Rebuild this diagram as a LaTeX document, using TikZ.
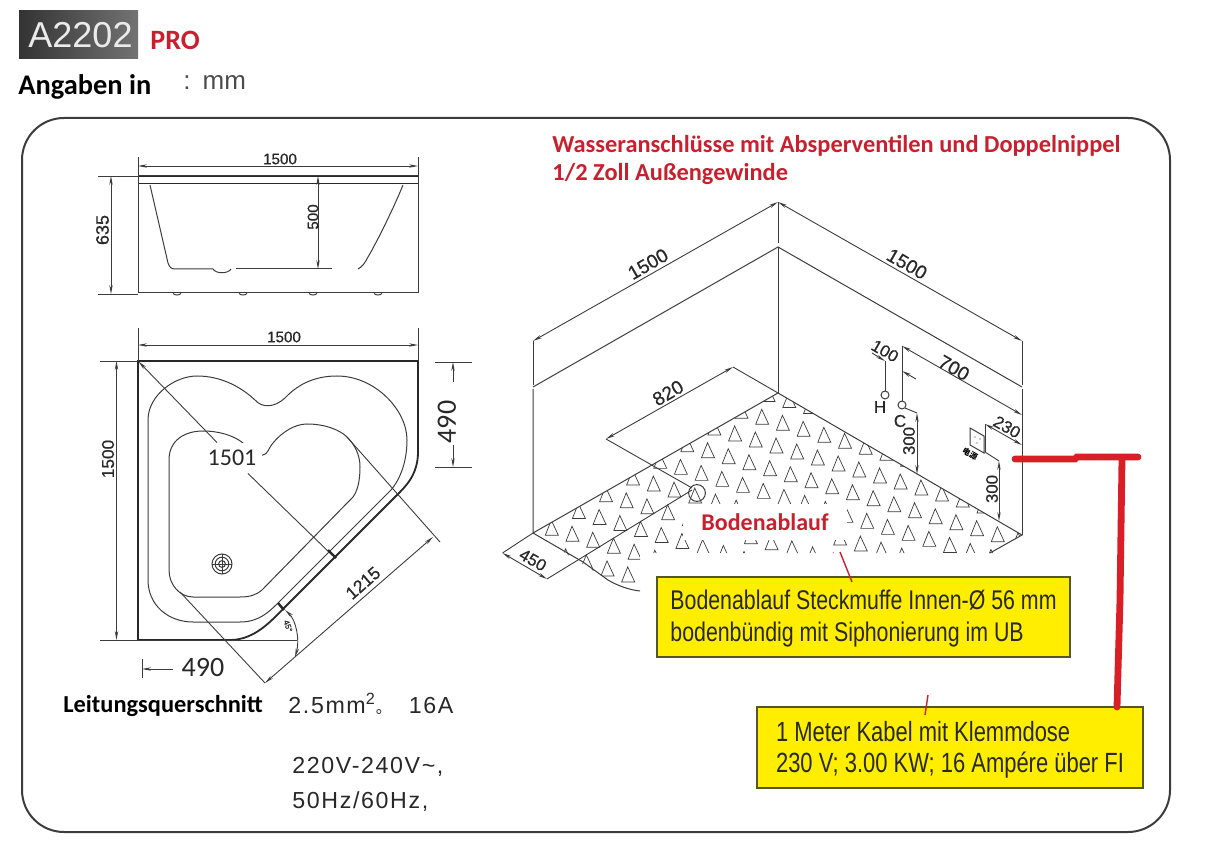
\documentclass[tikz,border=0pt]{standalone}
\usepackage{fontspec}
\usepackage{xcolor}
\setmainfont{Carlito}
\newfontfamily\dimfont[FakeBold=0.6]{Liberation Sans}
\newfontfamily\boxfont[FakeStretch=0.79]{Liberation Sans}
\newfontfamily\specfont[LetterSpace=7]{Liberation Sans}
\newfontfamily\plainfont{Liberation Sans}
\newfontfamily\cjk{Noto Sans CJK SC}
\usetikzlibrary{arrows.meta,positioning,calc}
\definecolor{inkgray}{RGB}{40,40,40}
\definecolor{linegray}{RGB}{60,60,60}
\definecolor{notered}{RGB}{200,32,46}
\definecolor{cablered}{RGB}{218,30,38}
\definecolor{boxyellow}{RGB}{255,238,0}
\definecolor{boxedge}{RGB}{85,85,40}
\tikzset{
    % Outer frame
    framebox/.style={draw=linegray, line width=1pt, rounded corners=21pt},
    % Outlines of the tub
    tubline/.style={draw=linegray, line width=0.5pt},
    tubedge/.style={draw=inkgray, line width=0.9pt},
    % Dimension lines
    dimline/.style={draw=linegray, line width=0.45pt, >={Stealth[length=4.5pt,width=1.7pt]}},
    extline/.style={draw=linegray, line width=0.45pt},
    tickline/.style={draw=inkgray, line width=1.2pt},
    % Dimension texts
    dimlabel/.style={font=\dimfont\fontsize{7.6}{9}\selectfont, text=inkgray, inner sep=0pt},
    isolabel/.style={font=\dimfont\fontsize{9.6}{11}\selectfont, text=inkgray, inner sep=0pt},
    smalliso/.style={font=\dimfont\fontsize{8.4}{10}\selectfont, text=inkgray, inner sep=0pt},
    biglabel/.style={font=\fontsize{14}{16}\selectfont, text=inkgray, inner sep=0pt},
    % Floor triangles
    floortri/.style={draw=linegray, line width=0.35pt},
    % Notes
    rednote/.style={font=\bfseries\fontsize{12.2}{14}\selectfont, text=notered, inner sep=0pt, anchor=west},
    yellowbox/.style={rectangle, draw=boxedge, line width=0.7pt, fill=boxyellow,
        text=inkgray, align=left, inner sep=0pt},
    specline/.style={font=\specfont\fontsize{11.6}{13}\selectfont, text=inkgray, inner sep=0pt, anchor=west},
    cable/.style={draw=cablered, line width=3.4pt, line cap=round},
    leader/.style={draw=notered, line width=0.7pt}
}

\begin{document}
\begin{tikzpicture}[x=0.5pt,y=-0.5pt]
\useasboundingbox (0,0) rectangle (1220,865);

% Header
\node[minimum width=59.5pt, minimum height=24pt, inner sep=0pt, left color=black!80, right color=black!55,
    text=black!8, font=\plainfont\fontsize{18}{20}\selectfont] (logo) at (78.5,35) {\hspace{2pt}A2202};
\node[rednote, font=\bfseries\fontsize{14}{16}\selectfont] (pro) at (150,40) {PRO};
\node[font=\bfseries\fontsize{14.2}{16}\selectfont, anchor=west, inner sep=0pt] (unit) at (18,87) {Angaben in};
\node[specline, font=\plainfont\fontsize{13}{15}\selectfont, text=black!70] (mm) at (183,83) {:\hspace{6pt}mm};

\draw[framebox] (22,118) rectangle (1170,832);

% Side view
\draw[tubedge] (138,176) -- (418,176);
\draw[tubedge] (138,183.5) -- (418,183.5);
\draw[tubline] (138,176) rectangle (418,293);
\draw[tubline] (150,185) -- (168,263) .. controls (169.5,267) and (171,269) .. (175,269) -- (213,269)
    .. controls (216,274) and (228,274) .. (231,269);
\draw[tubline] (236,269) -- (332,269);
\draw[tubline] (403,185) .. controls (395,205) and (378,240) .. (368,257) .. controls (365,263) and (362,267) .. (358,269);
\foreach \footx in {177,243,313,378}
    \draw[tubline] (\footx-4,293.5) .. controls (\footx-2,295.5) and (\footx+2,295.5) .. (\footx+4,293.5);
\draw[extline] (138,157) -- (138,176);
\draw[extline] (418,157) -- (418,176);
\draw[dimline,<->] (138,166) -- (418,166);
\node[dimlabel] (sidewidth) at (280,159) {1500};
\draw[extline] (98,176) -- (138,176);
\draw[extline] (98,294) -- (138,294);
\draw[dimline,<->] (111,176) -- (111,294);
\node[dimlabel, font=\dimfont\fontsize{9}{11}\selectfont, rotate=90] (sideheight) at (102.5,230) {635};
\draw[dimline,<->] (318,176) -- (318,269);
\node[dimlabel, rotate=90] (sidedepth) at (313,217) {500};

% Plan view
\draw[tubedge] (138,361) -- (418,361) -- (418,452) .. controls (418,475) and (405,487) .. (397,495)
    -- (284,608) .. controls (272,620) and (255,640) .. (230,640) -- (138,640) -- cycle;
\draw[tubline] (148,420) .. controls (148,395) and (175,376) .. (197,376)
    .. controls (220,376) and (240,386) .. (255,400)
    .. controls (262,408) and (274,408) .. (285,398)
    .. controls (300,382) and (318,376) .. (337,376)
    .. controls (375,376) and (407,410) .. (407,440)
    .. controls (407,465) and (398,482) .. (391,490)
    -- (278,603) .. controls (268,613) and (258,622) .. (240,622)
    -- (193,622) .. controls (168,622) and (148,605) .. (148,580) -- cycle;
\draw[tubline] (169,570) -- (169,460) .. controls (169,440) and (185,431) .. (203,431)
    .. controls (218,431) and (233,435) .. (243,443)
    .. controls (250,450) and (255,456) .. (263,455)
    .. controls (268,454) and (268,449) .. (273,443)
    .. controls (282,432) and (295,424) .. (307,424)
    .. controls (325,424) and (340,430) .. (347,437)
    .. controls (355,445) and (360,455) .. (360,467)
    .. controls (360,480) and (358,490) .. (353,497)
    -- (262,590) .. controls (256,595) and (250,597) .. (240,597)
    -- (193,597) .. controls (180,597) and (169,585) .. (169,570);
% Drain of the tub
\draw[tubline] (222,564) circle (5pt) circle (3.4pt) circle (1.7pt);
\draw[tubline] (212,564) -- (232,564) (222,554) -- (222,574);

% Plan dimensions
\draw[extline] (138,328) -- (138,361);
\draw[extline] (418,328) -- (418,361);
\draw[dimline,<->] (138,345) -- (418,345);
\node[dimlabel] (planwidth) at (284,337) {1500};
\draw[extline] (100,361) -- (138,361);
\draw[extline] (100,640) -- (297,640);
\draw[dimline,<->] (116.5,361) -- (116.5,640);
\node[dimlabel, font=\dimfont\fontsize{8.6}{10}\selectfont, rotate=90] (plandepth) at (108,459) {1500};
\node[fill=white, minimum width=30pt, minimum height=15pt, inner sep=0pt, font=\fontsize{12}{14}\selectfont, text=inkgray] (diag) at (232,458) {1501};
\coordinate (diagstart) at (138.5,361.5);
\coordinate (diagend) at (332,555);
\draw[dimline,<-] (diagstart) -- (diag);
\draw[dimline] (diag) -- (diagend);
\draw[tickline] (328,550) -- (336,558);
\draw[tickline] (278,603) -- (284,610);
\draw[extline] (347,437) -- (440,542);
\draw[extline] (180,592) -- (265,683);
\draw[dimline,<->] (433,537) -- (265,683);
\node[dimlabel, font=\dimfont\fontsize{8.8}{10}\selectfont, rotate=41] (chord) at (363,583) {1215};
\draw[dimline,<->] (285,610) .. controls (296,620) and (300,640) .. (295,657);
\node[dimlabel, font=\dimfont\fontsize{4}{5}\selectfont, rotate=-70] (angle) at (288,626) {45°};
\draw[extline] (435,362) -- (472,362);
\draw[extline] (435,467) -- (472,467);
\draw[dimline,->] (453,382) -- (453,362);
\draw[dimline,->] (453,445) -- (453,467);
\node[biglabel, rotate=90] (offsetright) at (447,422) {490};
\draw[extline] (142,659) -- (142,678);
\draw[dimline,->] (173,669) -- (142,669);
\node[biglabel] (offsetbottom) at (203,668) {490};

% Wiring data
\node[font=\bfseries\fontsize{12.2}{14}\selectfont, anchor=west, inner sep=0pt] (wire) at (63,706) {Leitungsquerschnitt};
\node[specline] (wiredata) at (288,704) {2.5mm\textsuperscript{2}{\cjk\fontsize{8}{10}\selectfont 。}\hspace{8.5pt}16A};
\node[specline] (volt) at (292,767) {220V-240V\textasciitilde,};
\node[specline] (freq) at (292,802) {50Hz/60Hz,};

% Water note
\node[rednote] (water) at (552,146) {Wasseranschlüsse mit Absperventilen und Doppelnippel};
\node[rednote] (thread) at (552,174) {1/2 Zoll Außengewinde};

% Room walls
\draw[tubline] (533,387) -- (778,247) -- (1022,387);
\draw[tubline] (778,247) -- (778,393);
\draw[tubline] (533,389) -- (533,533) -- (778,393) -- (1022,535) -- (990,553);
\draw[tubline] (1022,389) -- (1022,535);
\draw[tubline] (533,533) -- (583,562) -- (608,580) .. controls (618,586) and (630,590) .. (640,591);

% Floor triangles
\begin{scope}
\clip (778,393) -- (1022,535) -- (993,553) -- (640,553) -- (640,590) -- (608,580) -- (533,533) -- cycle;
\foreach \i in {-12,...,16} {
    \foreach \j in {-2,...,14} {
        \pgfmathsetmacro\tx{782.9+20.7*\i-27.1*\j}
        \pgfmathsetmacro\ty{423.3+6*\i+16.7*\j}
        \draw[floortri] (\tx,\ty) ++(-6.5,7) -- ++(6,-15) -- ++(7,15) -- cycle;
    }
}
\end{scope}
\draw[tubline] (697,493) circle (4.2pt);
\node[fill=white, minimum width=82pt, minimum height=18pt, inner sep=0pt, font=\bfseries\fontsize{12}{14}\selectfont, text=notered] (drain) at (765,522) {Bodenablauf};

% Room dimensions
\draw[dimline,<->] (533,341) -- (778,202);
\draw[dimline,<->] (778,202) -- (1022,341);
\draw[extline] (533,341) -- (533,385);
\draw[extline] (778,202) -- (778,243);
\draw[extline] (1022,341) -- (1022,385);
\node[isolabel, rotate=30] (wallleft) at (648,264) {1500};
\node[isolabel, rotate=-30] (wallright) at (907,264) {1500};
\draw[dimline,<->] (733,367) -- (606,439);
\draw[extline] (733,367) -- (778,393);
\draw[extline] (606,439) -- (692,488);
\node[isolabel, rotate=30] (drainback) at (668,393) {820};
\draw[dimline,<->] (502.5,553) -- (547,579);
\draw[extline] (502.5,553) -- (533,533);
\draw[extline] (547,579) -- (692,490);
\node[smalliso, rotate=-30] (drainside) at (533,560) {450};

% Water connections
\draw[tubline] (885,361) -- (885,391);
\draw[tubline] (902,346) -- (902,401);
\draw[tubline, fill=white] (885,395) circle (2pt);
\draw[tubline, fill=white] (902,405) circle (2pt);
\node[smalliso, font=\dimfont\fontsize{8.5}{10}\selectfont] (hot) at (880,407) {H};
\node[smalliso, font=\dimfont\fontsize{8.5}{10}\selectfont] (cold) at (900,421) {C};
\draw[dimline,->] (872,353) -- (885,361);
\draw[dimline,->] (916,379) -- (902,371);
\node[smalliso, rotate=-30] (pipegap) at (885,351) {100};
\draw[dimline,<->] (902,346) -- (1022,415);
\node[isolabel, rotate=-30] (pipeside) at (954,368) {700};
\draw[extline] (905,408) -- (917,413);
\draw[dimline,<->] (917,413) -- (917,474);
\node[smalliso, rotate=90] (coldup) at (909,441) {300};

% Socket
\draw[tubline] (970,428) -- (984,436) -- (984,453) -- (970,445) -- cycle;
\fill[inkgray] (975,437) circle (0.35pt) (980,439) circle (0.35pt) (977,443) circle (0.35pt);
\node[inner sep=0pt, rotate=-30, font=\cjk\bfseries\fontsize{4}{5}\selectfont] (socket) at (970,454) {电源};
\draw[extline] (985,452) -- (985,424);
\draw[dimline,<->] (985,424) -- (1022,445);
\node[smalliso, rotate=-30] (socketside) at (1007,427) {230};
\draw[extline] (985,452) -- (999,461);
\draw[dimline,<->] (999,461) -- (999,521);
\node[smalliso, rotate=90] (socketup) at (992,489) {300};

% Yellow notes
\node[yellowbox, minimum width=206.5pt, minimum height=40pt, font=\boxfont\fontsize{13.5}{16}\selectfont] (drainbox) at (863.5,617)
    {\rule{0pt}{11pt}Bodenablauf Steckmuffe Innen-Ø 56 mm\\bodenbündig mit Siphonierung im UB};
\node[yellowbox, minimum width=193pt, minimum height=40.5pt, font=\boxfont\fontsize{13.9}{15.5}\selectfont] (cablebox) at (950,747.5)
    {\rule{0pt}{12.5pt}1 Meter Kabel mit Klemmdose\\230 V; 3.00 KW; 16 Ampére über FI};

% Red marks
\coordinate (drainmark) at (840,552);
\coordinate (cablemark) at (928,695);
\draw[leader] (drainmark) -- (852,582);
\draw[leader] (cablemark) -- (925,715);
\coordinate (cablestart) at (1015,459);
\coordinate (cablecorner) at (1138,457);
\draw[cable] (cablestart) -- (1075,459) -- (1077,457) -- (cablecorner);
\draw[cable] (1122,458) -- (1120,600) -- (1117,707);

\end{tikzpicture}
\end{document}
